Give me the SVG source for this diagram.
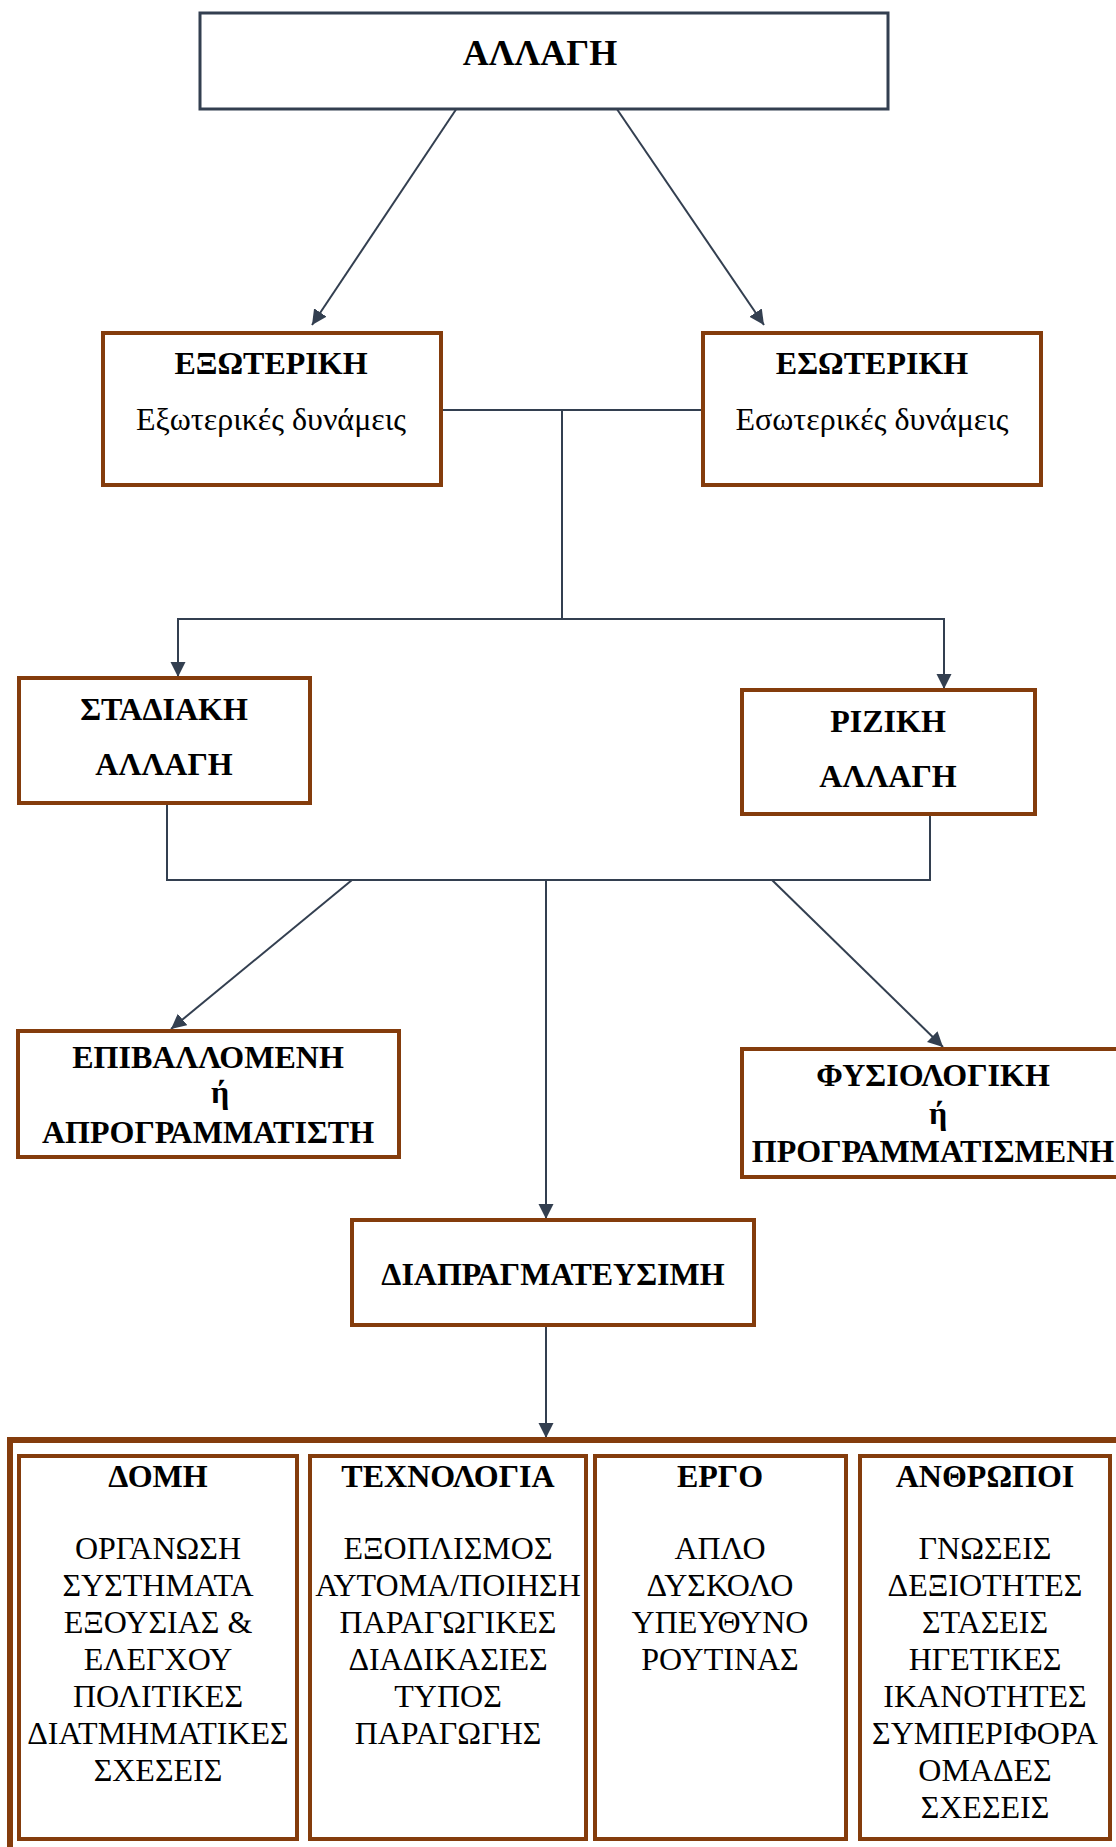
<svg xmlns="http://www.w3.org/2000/svg" width="1116" height="1847" viewBox="0 0 1116 1847">
<style>
  .box { fill: #ffffff; stroke: #843c0c; stroke-width: 4; }
  .top { fill: #ffffff; stroke: #333f50; stroke-width: 3; }
  .outer { fill: none; stroke: #843c0c; stroke-width: 6; }
  .b { font-family: "Liberation Serif", "Times New Roman", serif; font-weight: bold; font-size: 32px; fill: #000; text-anchor: middle; }
  .r { font-family: "Liberation Serif", "Times New Roman", serif; font-size: 32px; fill: #000; text-anchor: middle; }
  .t { font-family: "Liberation Serif", "Times New Roman", serif; font-weight: bold; font-size: 36px; fill: #000; text-anchor: middle; }
  .c { fill: none; stroke: #333f50; stroke-width: 2; }
  .ca { fill: none; stroke: #333f50; stroke-width: 2; marker-end: url(#arr); }
</style>
<defs>
  <marker id="arr" markerUnits="userSpaceOnUse" markerWidth="16" markerHeight="16" refX="15" refY="7.5" orient="auto">
    <path d="M0,0 L15,7.5 L0,15 z" fill="#333f50"/>
  </marker>
</defs>
<rect width="1116" height="1847" fill="#ffffff"/>

<g id="connectors">
  <line class="ca" x1="465" y1="96" x2="312" y2="325"/>
  <line class="ca" x1="608" y1="96" x2="764" y2="325"/>
  <line class="c" x1="441" y1="410" x2="702" y2="410"/>
  <line class="c" x1="562" y1="410" x2="562" y2="619"/>
  <line class="c" x1="177" y1="619" x2="945" y2="619"/>
  <line class="ca" x1="178" y1="619" x2="178" y2="677"/>
  <line class="ca" x1="944" y1="619" x2="944" y2="689"/>
  <line class="c" x1="167" y1="803" x2="167" y2="880"/>
  <line class="c" x1="930" y1="814" x2="930" y2="880"/>
  <line class="c" x1="166" y1="880" x2="931" y2="880"/>
  <line class="ca" x1="352" y1="880" x2="171" y2="1029"/>
  <line class="ca" x1="772" y1="880" x2="943" y2="1047"/>
  <line class="ca" x1="546" y1="880" x2="546" y2="1219"/>
  <line class="ca" x1="546" y1="1325" x2="546" y2="1438"/>
</g>

<g id="n-allagi">
  <rect class="top" x="200" y="13" width="688" height="96"/>
  <text class="t" x="540" y="65">ΑΛΛΑΓΗ</text>
</g>

<g id="n-exoteriki">
  <rect class="box" x="103" y="333" width="338" height="152"/>
  <text class="b" x="271" y="374">ΕΞΩΤΕΡΙΚΗ</text>
  <text class="r" x="271" y="430">Εξωτερικές δυνάμεις</text>
</g>

<g id="n-esoteriki">
  <rect class="box" x="703" y="333" width="338" height="152"/>
  <text class="b" x="872" y="374">ΕΣΩΤΕΡΙΚΗ</text>
  <text class="r" x="872" y="430">Εσωτερικές δυνάμεις</text>
</g>

<g id="n-stadiaki">
  <rect class="box" x="19" y="678" width="291" height="125"/>
  <text class="b" x="164" y="720">ΣΤΑΔΙΑΚΗ</text>
  <text class="b" x="164" y="775">ΑΛΛΑΓΗ</text>
</g>

<g id="n-riziki">
  <rect class="box" x="742" y="690" width="293" height="124"/>
  <text class="b" x="888" y="732">ΡΙΖΙΚΗ</text>
  <text class="b" x="888" y="787">ΑΛΛΑΓΗ</text>
</g>

<g id="n-epivallomeni">
  <rect class="box" x="18" y="1031" width="381" height="126"/>
  <text class="b" x="208" y="1068">ΕΠΙΒΑΛΛΟΜΕΝΗ</text>
  <text class="b" x="220" y="1103">ή</text>
  <text class="b" x="208" y="1143">ΑΠΡΟΓΡΑΜΜΑΤΙΣΤΗ</text>
</g>

<g id="n-fysiologiki">
  <rect class="box" x="742" y="1049" width="383" height="128"/>
  <text class="b" x="933" y="1086">ΦΥΣΙΟΛΟΓΙΚΗ</text>
  <text class="b" x="938" y="1124">ή</text>
  <text class="b" x="933" y="1162">ΠΡΟΓΡΑΜΜΑΤΙΣΜΕΝΗ</text>
</g>

<g id="n-diapragmateusimi">
  <rect class="box" x="352" y="1220" width="402" height="105"/>
  <text class="b" x="553" y="1285">ΔΙΑΠΡΑΓΜΑΤΕΥΣΙΜΗ</text>
</g>

<g id="n-group">
  <rect class="outer" x="10" y="1440" width="1120" height="420"/>
</g>

<g id="n-domi">
  <rect class="box" x="19" y="1456" width="278" height="383"/>
  <text class="b" x="158" y="1487">ΔΟΜΗ</text>
  <text class="r" x="158" y="1559">ΟΡΓΑΝΩΣΗ</text>
  <text class="r" x="158" y="1596">ΣΥΣΤΗΜΑΤΑ</text>
  <text class="r" x="158" y="1633">ΕΞΟΥΣΙΑΣ &amp;</text>
  <text class="r" x="158" y="1670">ΕΛΕΓΧΟΥ</text>
  <text class="r" x="158" y="1707">ΠΟΛΙΤΙΚΕΣ</text>
  <text class="r" x="158" y="1744">ΔΙΑΤΜΗΜΑΤΙΚΕΣ</text>
  <text class="r" x="158" y="1781">ΣΧΕΣΕΙΣ</text>
</g>

<g id="n-technologia">
  <rect class="box" x="310" y="1456" width="276" height="383"/>
  <text class="b" x="448" y="1487">ΤΕΧΝΟΛΟΓΙΑ</text>
  <text class="r" x="448" y="1559">ΕΞΟΠΛΙΣΜΟΣ</text>
  <text class="r" x="448" y="1596">ΑΥΤΟΜΑ/ΠΟΙΗΣΗ</text>
  <text class="r" x="448" y="1633">ΠΑΡΑΓΩΓΙΚΕΣ</text>
  <text class="r" x="448" y="1670">ΔΙΑΔΙΚΑΣΙΕΣ</text>
  <text class="r" x="448" y="1707">ΤΥΠΟΣ</text>
  <text class="r" x="448" y="1744">ΠΑΡΑΓΩΓΗΣ</text>
</g>

<g id="n-ergo">
  <rect class="box" x="595" y="1456" width="251" height="383"/>
  <text class="b" x="720" y="1487">ΕΡΓΟ</text>
  <text class="r" x="720" y="1559">ΑΠΛΟ</text>
  <text class="r" x="720" y="1596">ΔΥΣΚΟΛΟ</text>
  <text class="r" x="720" y="1633">ΥΠΕΥΘΥΝΟ</text>
  <text class="r" x="720" y="1670">ΡΟΥΤΙΝΑΣ</text>
</g>

<g id="n-anthropoi">
  <rect class="box" x="860" y="1456" width="250" height="383"/>
  <text class="b" x="985" y="1487">ΑΝΘΡΩΠΟΙ</text>
  <text class="r" x="985" y="1559">ΓΝΩΣΕΙΣ</text>
  <text class="r" x="985" y="1596">ΔΕΞΙΟΤΗΤΕΣ</text>
  <text class="r" x="985" y="1633">ΣΤΑΣΕΙΣ</text>
  <text class="r" x="985" y="1670">ΗΓΕΤΙΚΕΣ</text>
  <text class="r" x="985" y="1707">ΙΚΑΝΟΤΗΤΕΣ</text>
  <text class="r" x="985" y="1744">ΣΥΜΠΕΡΙΦΟΡΑ</text>
  <text class="r" x="985" y="1781">ΟΜΑΔΕΣ</text>
  <text class="r" x="985" y="1818">ΣΧΕΣΕΙΣ</text>
</g>
</svg>
